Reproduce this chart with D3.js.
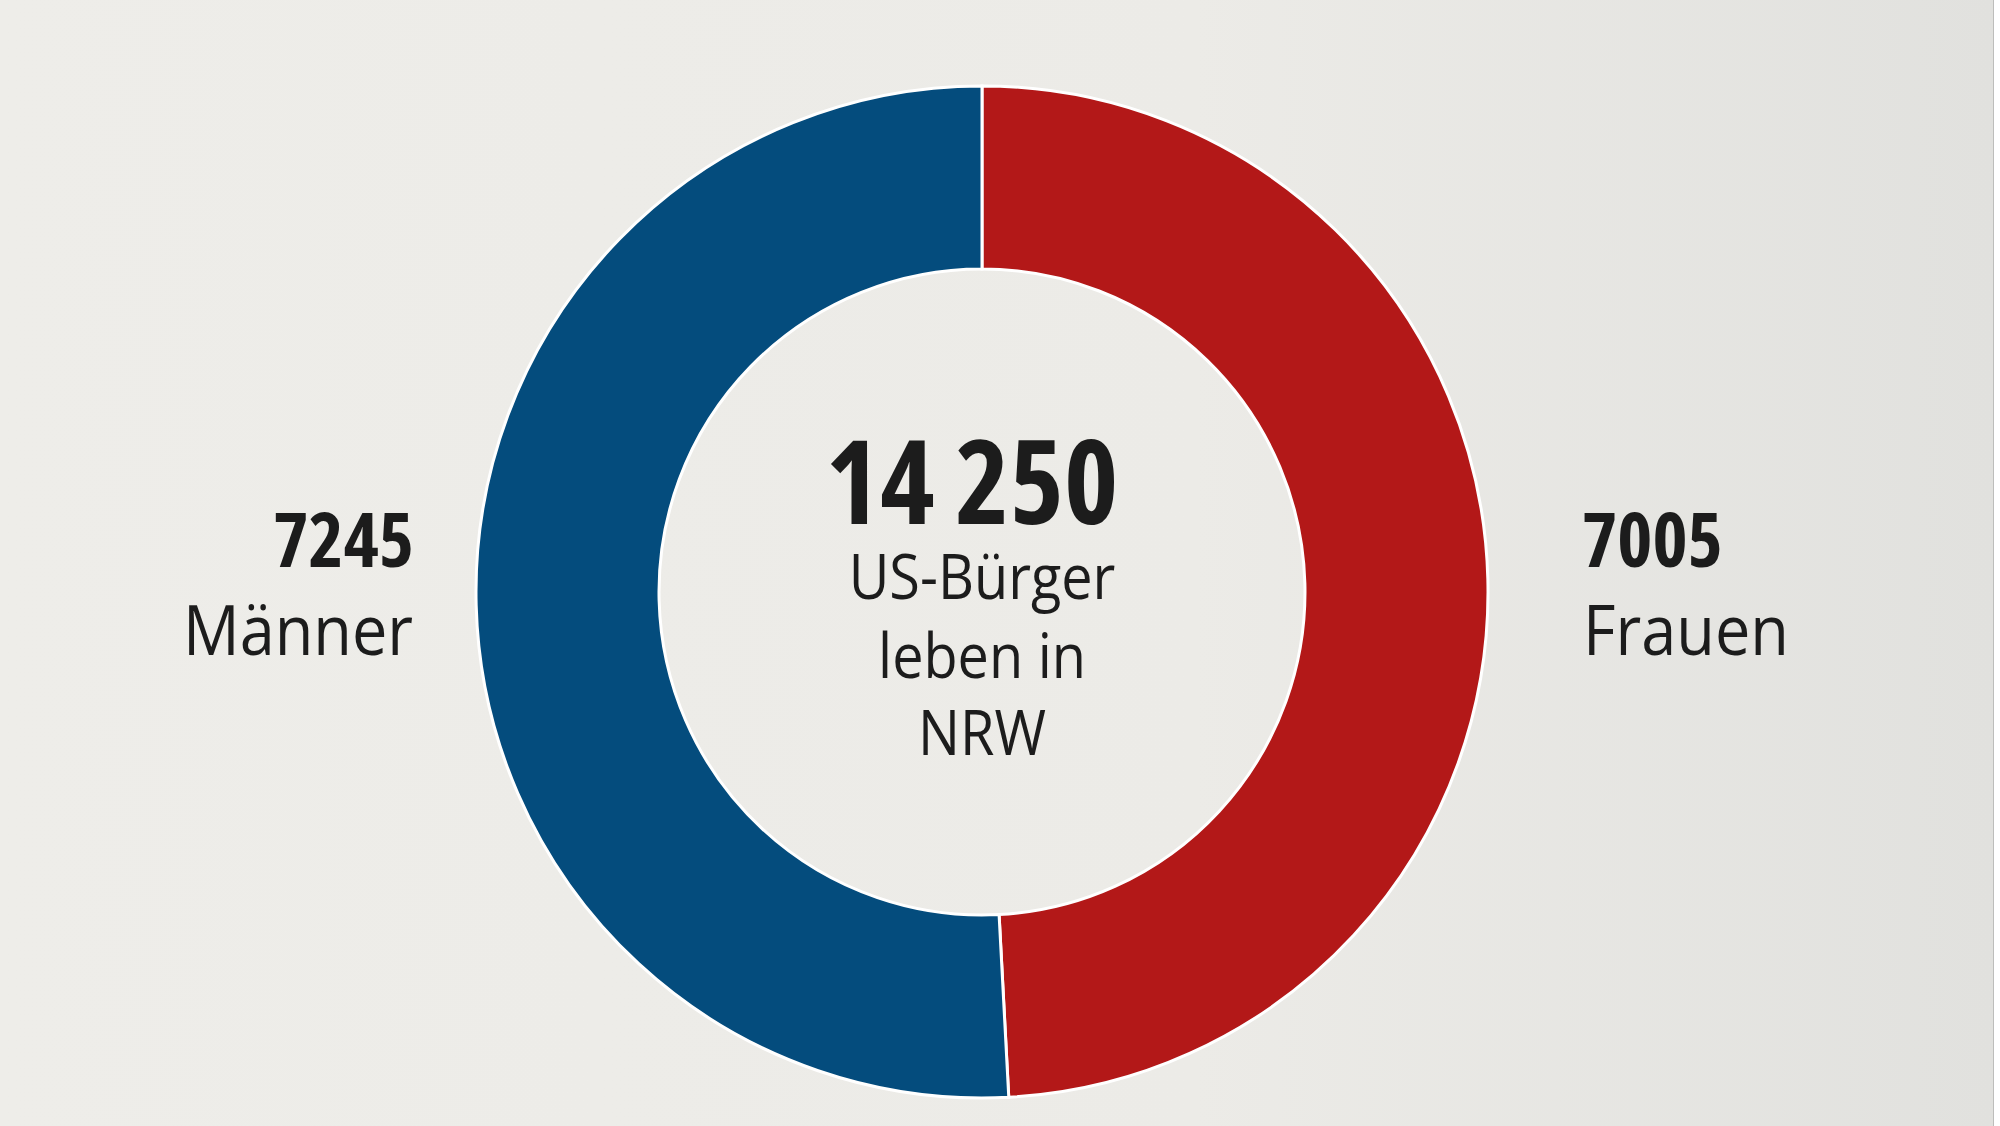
<!DOCTYPE html>
<html>
<head>
<meta charset="utf-8">
<script src="https://cdn.jsdelivr.net/npm/d3@7"></script>
<style>
html,body{margin:0;padding:0;background:#fff;}
svg{display:block;}
</style>
</head>
<body>
<svg id="chart" width="2000" height="1126"></svg>
<script>
const categories = ["Frauen", "Männer"];
const values = [7005, 7245];
const colors = ["#b31818", "#044c7d"];
const totalLabel = "14 250";
const centerLines = ["US-Bürger", "leben in", "NRW"];

const W = 2000, H = 1126;
const cx = 982, cy = 592, outerR = 506, innerR = 323;

const svg = d3.select("#chart");
const defs = svg.append("defs");
const grad = defs.append("linearGradient").attr("id","bg").attr("x1","0").attr("y1","0").attr("x2","1").attr("y2","0");
grad.append("stop").attr("offset","0").attr("stop-color","#eeede9");
grad.append("stop").attr("offset","0.6").attr("stop-color","#ecebe7");
grad.append("stop").attr("offset","1").attr("stop-color","#e1e1de");
svg.append("rect").attr("width",1993).attr("height",H).attr("fill","url(#bg)");
svg.append("line").attr("x1",1993.5).attr("x2",1993.5).attr("y1",0).attr("y2",H).attr("stroke","#bdbdbb").attr("stroke-width",1);

const data = categories.map((c,i)=>({cat:c, value:values[i], color:colors[i]}));
const pie = d3.pie().sort(null).value(d=>d.value);
const arc = d3.arc().innerRadius(innerR).outerRadius(outerR);

const g = svg.append("g").attr("transform",`translate(${cx},${cy})`);
g.selectAll("path").data(pie(data)).join("path")
  .attr("d",arc)
  .attr("fill",d=>d.data.color)
  .attr("stroke","#ffffff")
  .attr("stroke-width",3);

const font = "'Open Sans', 'Noto Sans', sans-serif";

// bold: condensed face via font-stretch
function bold(x,y,s,size,anchor){
  svg.append("text")
    .attr("x",x).attr("y",y)
    .attr("text-anchor",anchor)
    .attr("font-family",font)
    .attr("font-size",size)
    .attr("font-weight",700)
    .style("font-stretch","condensed")
    .attr("fill","#1c1c1c")
    .text(s);
}
// regular: horizontally narrowed
function reg(x,y,s,size,anchor){
  svg.append("text")
    .attr("transform",`translate(${x},${y}) scale(0.9,1)`)
    .attr("text-anchor",anchor)
    .attr("font-family",font)
    .attr("font-size",size)
    .attr("font-weight",400)
    .attr("fill","#1c1c1c")
    .text(s);
}

bold(972, 524, totalLabel, 116, "middle");
const lineY = [599, 678, 755];
centerLines.forEach((s,i)=>reg(982, lineY[i], s, 62, "middle"));

bold(414, 567, String(values[1]), 75, "end");
reg(413, 655, categories[1], 70, "end");
bold(1582, 567, String(values[0]), 75, "start");
reg(1583, 655, categories[0], 70, "start");
</script>
</body>
</html>
